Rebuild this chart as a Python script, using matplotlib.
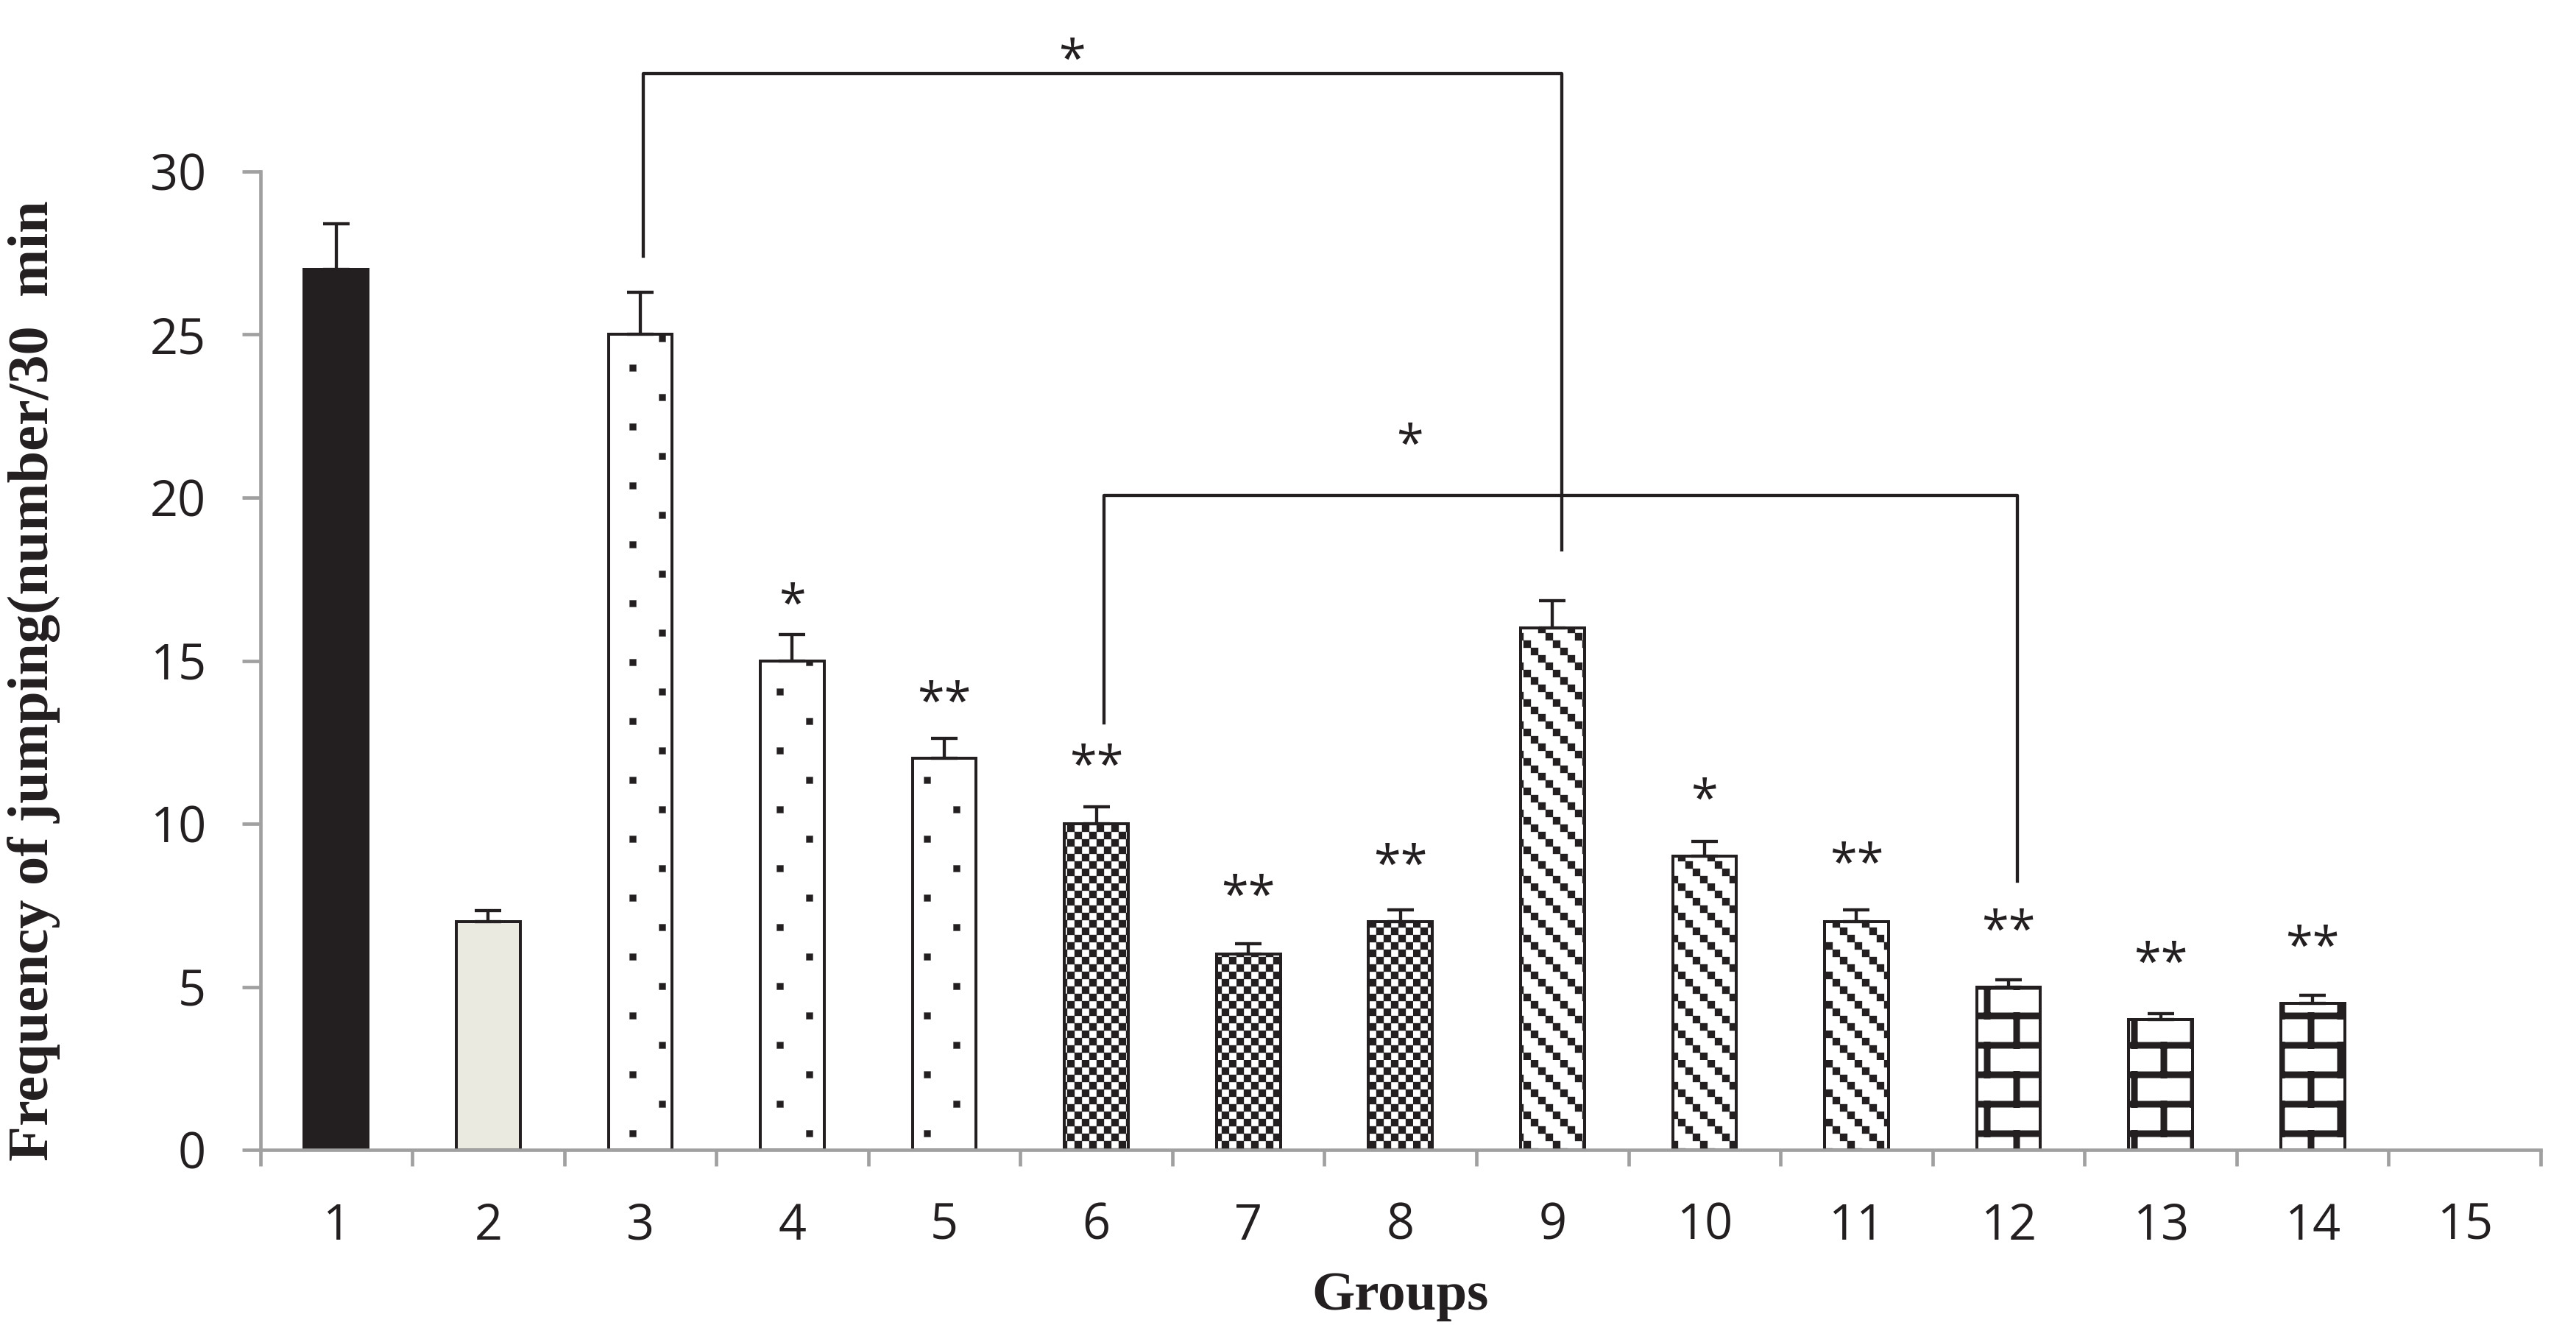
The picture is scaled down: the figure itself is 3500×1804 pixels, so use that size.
import matplotlib.pyplot as plt
import matplotlib.hatch as mhatch
from matplotlib.path import Path
import numpy as np

# group labels, means and upper error
groups = [str(i) for i in range(1, 16)]
means = [27, 7, 25, 15, 12, 10, 6, 7, 16, 9, 7, 5, 4, 4.5, 0]
sem = [1.4, 0.34, 1.3, 0.8, 0.62, 0.53, 0.32, 0.36, 0.83, 0.47, 0.36, 0.22, 0.18, 0.24, 0]

# significance marks above bars
stars = ['', '', '', '*', '**', '**', '**', '**', '', '*', '**', '**', '**', '**', '']
star_y = [0, 0, 0, 17.1, 14.1, 12.15, 8.15, 9.1, 0, 11.1, 9.15, 7.1, 6.1, 6.6, 0]

# comparison brackets
bracket_left = [3.02, 6.05]
bracket_right = [9.06, 12.06]
bracket_top = [33.0, 20.07]
bracket_left_end = [27.4, 13.1]
bracket_right_end = [18.4, 8.24]
bracket_star_x = [5.84, 8.06]
bracket_star_y = [33.8, 22.0]

dark = '#231f20'
grey = '#a0a0a0'


# Excel-like fill patterns, one hatch cell = 1 inch = 240 px
def squares(centers, size):
    verts, codes = [], []
    h = size / 2
    for cx, cy in centers:
        verts += [(cx - h, cy - h), (cx + h, cy - h), (cx + h, cy + h), (cx - h, cy + h), (cx - h, cy - h)]
        codes += [Path.MOVETO, Path.LINETO, Path.LINETO, Path.LINETO, Path.CLOSEPOLY]
    return verts, codes


def dots_cell():
    c = []
    for j in range(6):
        for i in range(3):
            c.append(((i + (0.25 if j % 2 == 0 else 0.75)) / 3, (j + 0.5) / 6))
    return squares(c, 9 / 240)


def checker_cell():
    c = [((i + 0.5) / 24, (j + 0.5) / 24) for i in range(24) for j in range(24) if (i + j) % 2 == 0]
    return squares(c, 1 / 24)


def dash_cell():
    c = []
    for k in range(6):
        for s in range(24):
            c.append((((4 * k + s) % 24 + 0.5) / 24, (23 - s + 0.5) / 24))
    return squares(c, 10 / 240)


def brick_cell():
    verts, codes = [], []
    for j in range(6):
        y0 = (j + 0.5) / 6
        verts += [(0, y0), (1, y0)]
        codes += [Path.MOVETO, Path.LINETO]
        y1 = (j + 1.5) / 6
        for i in range(3):
            xj = (i + (0.25 if j % 2 == 0 else 0.75)) / 3
            if y1 <= 1:
                segs = [(y0, y1)]
            else:
                segs = [(y0, 1.0), (0.0, y1 - 1)]
            for a, b in segs:
                verts += [(xj, a), (xj, b)]
                codes += [Path.MOVETO, Path.LINETO]
    return verts, codes


def tile_class(key, build):
    class Tiles:
        def __init__(self, hatch, density):
            if key in hatch:
                self.verts, self.codes = build()
            else:
                self.verts, self.codes = [], []
            self.num_vertices = len(self.verts)

        def set_vertices_and_codes(self, vertices, codes):
            vertices[:] = self.verts
            codes[:] = self.codes
    return Tiles


custom = hasattr(mhatch, '_hatch_types')
if custom:
    swap = {mhatch.SmallFilledCircles: tile_class('.', dots_cell),
            mhatch.Stars: tile_class('*', checker_cell),
            mhatch.LargeCircles: tile_class('O', dash_cell),
            mhatch.SmallCircles: tile_class('o', brick_cell)}
    mhatch._hatch_types[:] = [swap.get(t, t) for t in mhatch._hatch_types]
    pat = {'dots': '.', 'check': '*', 'dash': 'O', 'brick': 'o'}
else:
    pat = {'dots': '.', 'check': 'xx', 'dash': '\\', 'brick': '+'}

# bar styles
face = ['#231f20', '#ebeae0'] + ['white'] * 13
kind = [None, None, 'dots', 'dots', 'dots', 'check', 'check', 'check',
        'dash', 'dash', 'dash', 'brick', 'brick', 'brick', None]
lw_by_kind = {'dots': 0.1, 'check': 0.1, 'dash': 0.1, 'brick': 2.7}
if not custom:
    lw_by_kind = {'dots': 0.3, 'check': 1.5, 'dash': 2.0, 'brick': 2.6}

plt.rcParams['font.family'] = ['Open Sans', 'DejaVu Sans']
plt.rcParams['hatch.color'] = 'black'


def with_hatch_lw(draw, lw):
    # hatch width is read from rcParams when the patch is drawn
    def wrapped(renderer):
        with plt.rc_context({'hatch.linewidth': lw}):
            draw(renderer)
    return wrapped


fig = plt.figure(figsize=(3500 / 240, 1804 / 240), dpi=240)
ax = fig.add_axes([0.101, 0.1341, 0.8853, 0.835])

x = np.arange(1, 16)
for i in range(len(means)):
    h = pat[kind[i]] if kind[i] else None
    lw = lw_by_kind.get(kind[i], 1.0)
    plt.rcParams['hatch.linewidth'] = lw
    bars = ax.bar(x[i], means[i], width=0.42, color=face[i], edgecolor=dark,
                  linewidth=1.2 if means[i] > 0 else 0, hatch=h, zorder=2)
    for b in bars:
        b.draw = with_hatch_lw(b.draw, lw)

# upper error bars only
n = 14
ax.errorbar(x[:n], means[:n], yerr=[np.zeros(n), sem[:n]], fmt='none', ecolor=dark,
            elinewidth=1.3, capsize=5.4, capthick=1.3, zorder=3)

for i in range(len(stars)):
    if stars[i]:
        ax.annotate(stars[i], (x[i], star_y[i]), xytext=(0, -11.4), textcoords='offset points',
                    ha='center', va='baseline', fontsize=20, color=dark)

for j in range(len(bracket_top)):
    ax.plot([bracket_left[j], bracket_left[j], bracket_right[j], bracket_right[j]],
            [bracket_left_end[j], bracket_top[j], bracket_top[j], bracket_right_end[j]],
            color=dark, lw=1.3, clip_on=False, zorder=3)
    ax.annotate('*', (bracket_star_x[j], bracket_star_y[j]), xytext=(0, -11.4),
                textcoords='offset points', ha='center', va='baseline', fontsize=20,
                color=dark, annotation_clip=False)

ax.set_xlim(0.5, 15.5)
ax.set_ylim(0, 34)
ax.spines['top'].set_visible(False)
ax.spines['right'].set_visible(False)
ax.spines['left'].set_bounds(0, 30)
for s in ['left', 'bottom']:
    ax.spines[s].set_color(grey)
    ax.spines[s].set_linewidth(1.4)

ax.set_yticks(range(0, 31, 5))
ax.tick_params(axis='y', length=7.5, width=1.4, color=grey, pad=14.5, labelsize=20,
               labelcolor=dark)
ax.set_xticks(x, groups)
ax.set_xticks(np.arange(0.5, 16, 1), minor=True)
ax.tick_params(axis='x', which='major', length=0, pad=21, labelsize=20, labelcolor=dark)
ax.tick_params(axis='x', which='minor', length=6.5, width=1.4, color=grey)

ax.set_ylabel('Frequency of jumping(number/30  min', fontsize=23.5, fontfamily='Liberation Serif',
              fontweight='bold', va='center', color=dark)
ax.yaxis.set_label_coords(-0.0992, 0.423)
ax.set_xlabel('Groups', fontsize=22.5, fontfamily='Liberation Serif', fontweight='bold',
              va='baseline', color=dark)
ax.xaxis.set_label_coords(0.5, -0.1441)

plt.savefig('out.png', dpi=240)
